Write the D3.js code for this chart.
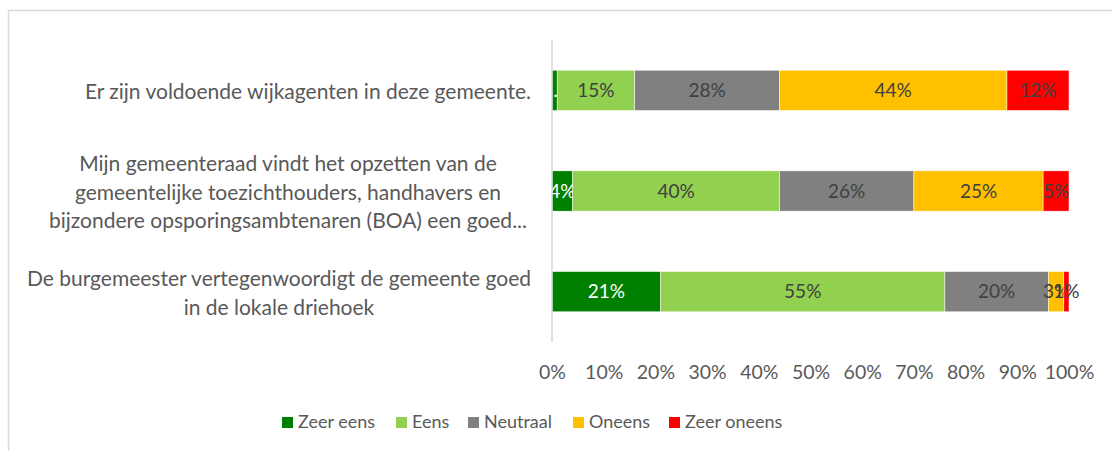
<!DOCTYPE html>
<html lang="nl">
<head>
<meta charset="UTF-8">
<title>Stellingen</title>
<script src="https://d3js.org/d3.v7.min.js"></script>
<style>
  body { margin: 0; background: #fff; }
  svg text { font-family: Lato, "Open Sans", sans-serif; }
</style>
</head>
<body>
<svg id="chart" width="1112" height="451"></svg>
<script>
// statements, top to bottom
const categories = [
  ["Er zijn voldoende wijkagenten in deze gemeente."],
  ["Mijn gemeenteraad vindt het opzetten van de", "gemeentelijke toezichthouders, handhavers en", "bijzondere opsporingsambtenaren (BOA) een goed..."],
  ["De burgemeester vertegenwoordigt de gemeente goed", "in de lokale driehoek"]
];
const seriesNames = ["Zeer eens", "Eens", "Neutraal", "Oneens", "Zeer oneens"];
const zeerEens   = [1, 4, 21];
const eens       = [15, 40, 55];
const neutraal   = [28, 26, 20];
const oneens     = [44, 25, 3];
const zeerOneens = [12, 5, 1];
const tickValues = [0, 0.1, 0.2, 0.3, 0.4, 0.5, 0.6, 0.7, 0.8, 0.9, 1];
// label as shown in the original (too narrow segment gets cut off)
const labelOverride = { "0-0": "1..." };

const colors = ["#008000", "#92d050", "#808080", "#ffc000", "#ff0000"];
const labelColors = ["#ffffff", "#404040", "#404040", "#404040", "#404040"];

const svg = d3.select("#chart");

// outer frame
svg.append("path")
  .attr("d", "M8.5,451 V10.5 H1112")
  .attr("fill", "none")
  .attr("stroke", "#d9d9d9")
  .attr("stroke-width", 1.5);

const x = d3.scaleLinear().domain([0, 1]).range([552, 1069]);
const y = d3.scaleBand().domain(d3.range(categories.length)).range([40, 342]).paddingInner(0.6).paddingOuter(0.3);

const values = [zeerEens, eens, neutraal, oneens, zeerOneens];
const rows = categories.map((c, i) => {
  const total = d3.sum(values, s => s[i]);
  let cum = 0;
  return values.map((s, j) => {
    const seg = { row: i, series: j, value: s[i], x0: cum / total, x1: (cum + s[i]) / total };
    cum += s[i];
    return seg;
  });
});

const g = svg.append("g");
const segs = g.selectAll("g.row").data(rows).join("g").attr("class", "row")
  .selectAll("g.seg").data(d => d).join("g").attr("class", "seg");

segs.append("rect")
  .attr("x", d => x(d.x0))
  .attr("y", d => y(d.row))
  .attr("width", d => x(d.x1) - x(d.x0))
  .attr("height", y.bandwidth())
  .attr("fill", d => colors[d.series])
  .attr("stroke", "#ffffff")
  .attr("stroke-width", 0.5);

segs.append("text")
  .attr("x", d => (x(d.x0) + x(d.x1)) / 2)
  .attr("y", d => y(d.row) + y.bandwidth() / 2)
  .attr("dy", "0.35em")
  .attr("text-anchor", "middle")
  .attr("font-size", 19)
  .attr("fill", d => labelColors[d.series])
  .text(d => labelOverride[d.row + "-" + d.series] || d.value + "%");

// vertical axis line
svg.append("line")
  .attr("x1", x(0)).attr("x2", x(0))
  .attr("y1", 40).attr("y2", 342)
  .attr("stroke", "#d9d9d9").attr("stroke-width", 1.5);

// category labels: wrapped lines centered in a box that ends near the axis
const lineH = 28.5;
const labelRight = 531;
categories.forEach((lines, i) => {
  const cy = y(i) + y.bandwidth() / 2 + 1.5;
  const t = svg.append("text")
    .attr("font-size", 21)
    .attr("fill", "#595959")
    .attr("text-anchor", "middle");
  lines.forEach((l, k) => {
    t.append("tspan")
      .attr("y", cy + (k - (lines.length - 1) / 2) * lineH)
      .attr("dy", "0.35em")
      .text(l);
  });
  const w = d3.max(t.selectAll("tspan").nodes(), n => n.getComputedTextLength());
  const cx = Math.min(labelRight - w / 2, 288);
  t.selectAll("tspan").attr("x", lines.length > 2 ? 288 : labelRight - w / 2);
});

// x axis ticks
svg.append("g")
  .attr("transform", "translate(0,372)")
  .call(d3.axisBottom(x).tickValues(tickValues).tickFormat(d3.format(".0%")).tickSize(0).tickPadding(0))
  .call(a => a.select(".domain").remove())
  .selectAll("text")
  .attr("dy", "0.35em")
  .attr("font-size", 19.5)
  .attr("fill", "#595959");

// legend
const legendX = [282, 396, 468, 573, 669];
const legend = svg.append("g").selectAll("g").data(seriesNames).join("g")
  .attr("transform", (d, i) => `translate(${legendX[i]},422)`);
legend.append("rect")
  .attr("x", 0).attr("y", -5).attr("width", 11).attr("height", 11)
  .attr("fill", (d, i) => colors[i]);
legend.append("text")
  .attr("x", 16).attr("dy", "0.35em")
  .attr("font-size", 18)
  .attr("fill", "#595959")
  .text(d => d);
</script>
</body>
</html>
